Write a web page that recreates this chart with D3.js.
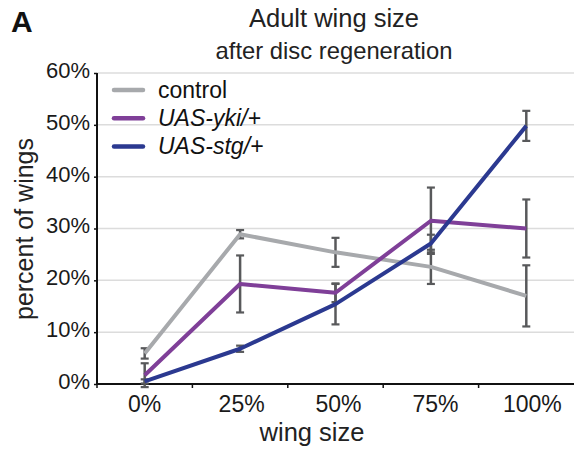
<!DOCTYPE html>
<html>
<head>
<meta charset="utf-8">
<script src="https://cdn.jsdelivr.net/npm/d3@7"></script>
<style>
  body { margin: 0; background: #fff; }
  svg { font-family: "Liberation Sans", Arial, Helvetica, sans-serif; }
</style>
</head>
<body>
<div id="chart"></div>
<script>
// data
var categories = ["0%", "25%", "50%", "75%", "100%"];
var seriesNames = ["control", "UAS-yki/+", "UAS-stg/+"];
var controlValues = [5.9, 28.9, 25.4, 22.6, 17.0];
var controlErrors = [1.0, 0.8, 2.8, 3.3, 5.9];
var ykiValues = [1.7, 19.3, 17.6, 31.5, 30.0];
var ykiErrors = [2.3, 5.5, 1.8, 6.4, 5.6];
var stgValues = [0.5, 6.8, 15.4, 27.1, 49.8];
var stgErrors = [0.4, 0.6, 3.9, 1.7, 2.9];
var yTicks = [0, 10, 20, 30, 40, 50, 60];

var svgWidth = 574;
var svgHeight = 451;

var margin = { top: 73, right: 0, bottom: 67, left: 97 };
var width = svgWidth - margin.left - margin.right;
var height = svgHeight - margin.top - margin.bottom;

var colors = ["#a7a9ac", "#7f3f98", "#2b3990"];

var series = [
    { name: seriesNames[0], values: controlValues, errors: controlErrors, color: colors[0], italic: false },
    { name: seriesNames[1], values: ykiValues, errors: ykiErrors, color: colors[1], italic: true },
    { name: seriesNames[2], values: stgValues, errors: stgErrors, color: colors[2], italic: true }
];

var svg = d3.select("#chart")
    .append("svg")
    .attr("width", svgWidth)
    .attr("height", svgHeight);

var chartGroup = svg.append("g")
    .attr("transform", `translate(${margin.left}, ${margin.top})`);

var xScale = d3.scaleBand()
    .domain(categories)
    .range([0, width]);

var yScale = d3.scaleLinear()
    .domain([0, 60])
    .range([height, 0]);

// gridlines
chartGroup.selectAll(".grid")
    .data(yTicks.filter(d => d > 0))
    .enter()
    .append("line")
    .attr("x1", 0)
    .attr("x2", width)
    .attr("y1", d => yScale(d))
    .attr("y2", d => yScale(d))
    .attr("stroke", "#dcdcdc")
    .attr("stroke-width", 1.5);

// y axis
var leftAxis = d3.axisLeft(yScale)
    .tickValues(yTicks)
    .tickFormat(d => d + "%")
    .tickSize(3)
    .tickPadding(4);

var yAxisG = chartGroup.append("g").call(leftAxis);
yAxisG.attr("font-size", null).attr("font-family", null);
yAxisG.select(".domain").attr("stroke", "#111").attr("stroke-width", 2).attr("d", `M0,${height}V0`);
yAxisG.selectAll(".tick line").attr("stroke", "#111").attr("stroke-width", 1.5);
yAxisG.selectAll(".tick text")
    .attr("fill", "#1a1a1a")
    .attr("dy", "0.2em")
    .style("font-size", "22px");

// x axis
var bottomAxis = d3.axisBottom(xScale)
    .tickSize(0)
    .tickPadding(12);

var xAxisG = chartGroup.append("g")
    .attr("transform", `translate(0, ${height})`)
    .call(bottomAxis);
xAxisG.attr("font-size", null).attr("font-family", null);
xAxisG.select(".domain").attr("stroke", "#111").attr("stroke-width", 2).attr("d", `M0,0H${width}`);
xAxisG.selectAll(".tick text")
    .attr("fill", "#1a1a1a")
    .attr("dx", (d, i) => i * 1.5)
    .style("font-size", "23px");

// small ticks at the band boundaries
chartGroup.selectAll(".bandTick")
    .data(categories)
    .enter()
    .append("line")
    .attr("x1", d => xScale(d))
    .attr("x2", d => xScale(d))
    .attr("y1", height)
    .attr("y2", height + 4)
    .attr("stroke", "#111")
    .attr("stroke-width", 1.5);

var xCenter = d => xScale(d) + xScale.bandwidth() / 2;

// error bars
series.forEach(function(s) {
    var eg = chartGroup.append("g");
    categories.forEach(function(c, i) {
        var top = yScale(s.values[i] + s.errors[i]);
        var bot = yScale(s.values[i] - s.errors[i]);
        var cx = xCenter(c);
        eg.append("line")
            .attr("x1", cx).attr("x2", cx)
            .attr("y1", top).attr("y2", bot)
            .attr("stroke", "#58595b").attr("stroke-width", 2.5);
        [top, bot].forEach(function(yy) {
            eg.append("line")
                .attr("x1", cx - 4).attr("x2", cx + 4)
                .attr("y1", yy).attr("y2", yy)
                .attr("stroke", "#58595b").attr("stroke-width", 2.2);
        });
    });
});

// lines
var line = d3.line()
    .x((d, i) => xCenter(categories[i]))
    .y(d => yScale(d));

series.forEach(function(s) {
    chartGroup.append("path")
        .datum(s.values)
        .attr("fill", "none")
        .attr("stroke", s.color)
        .attr("stroke-width", 4)
        .attr("stroke-linejoin", "round")
        .attr("d", line);
});

// legend
var legend = svg.append("g")
    .attr("transform", "translate(114, 90)");

series.forEach(function(s, i) {
    var row = legend.append("g").attr("transform", `translate(0, ${i * 28.2})`);
    row.append("line")
        .attr("x1", 0).attr("x2", 29)
        .attr("y1", 0).attr("y2", 0)
        .attr("stroke", s.color)
        .attr("stroke-width", 4.5)
        .attr("stroke-linecap", "round");
    row.append("text")
        .attr("x", 44)
        .attr("y", 8)
        .style("font-size", "23px")
        .style("font-style", s.italic ? "italic" : "normal")
        .attr("fill", "#111")
        .text(s.name);
});

// titles
svg.append("text")
    .attr("x", 11)
    .attr("y", 32)
    .style("font-size", "30px")
    .style("font-weight", "bold")
    .attr("fill", "#111")
    .text("A");

svg.append("text")
    .attr("x", 334)
    .attr("y", 27)
    .attr("text-anchor", "middle")
    .style("font-size", "25.5px")
    .attr("fill", "#222")
    .text("Adult wing size");

svg.append("text")
    .attr("x", 334)
    .attr("y", 59)
    .attr("text-anchor", "middle")
    .style("font-size", "23.8px")
    .attr("fill", "#222")
    .text("after disc regeneration");

// axis labels
svg.append("text")
    .attr("transform", "rotate(-90)")
    .attr("x", -229)
    .attr("y", 33)
    .attr("text-anchor", "middle")
    .style("font-size", "25px")
    .attr("fill", "#222")
    .text("percent of wings");

svg.append("text")
    .attr("x", 312)
    .attr("y", 441)
    .attr("text-anchor", "middle")
    .style("font-size", "25.5px")
    .attr("fill", "#222")
    .text("wing size");
</script>
</body>
</html>
